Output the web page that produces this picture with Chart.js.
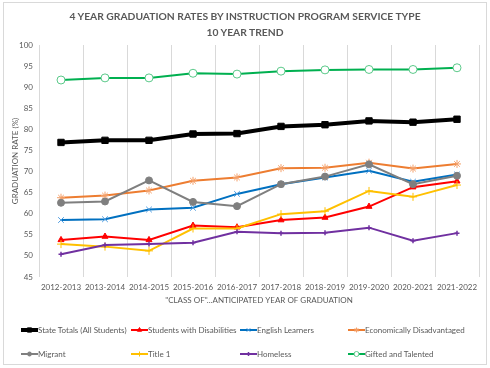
<!DOCTYPE html>
<html><head><meta charset="utf-8">
<script src="https://cdn.jsdelivr.net/npm/chart.js@4"></script>
<style>
html,body{margin:0;padding:0;background:#fff;}
#wrap{position:relative;width:490px;height:368px;font-family:Lato,"Liberation Sans",sans-serif;overflow:hidden;}
#frame{position:absolute;left:3px;top:2px;width:484px;height:363px;border:1px solid #d9d9d9;box-sizing:border-box;}
#title{position:absolute;left:0;top:8px;width:490px;text-align:center;font-weight:bold;font-size:10.3px;line-height:16px;color:#595959;}
#c{position:absolute;left:0;top:0;}
.lg{position:absolute;font-size:8px;color:#595959;height:12px;line-height:12px;white-space:nowrap;}
.lg canvas{vertical-align:middle;display:inline-block;}
.lg span{vertical-align:middle;}
</style></head>
<body>
<div id="wrap">
<div id="frame"></div>
<canvas id="c" width="490" height="368"></canvas>
<div id="title">4 YEAR GRADUATION RATES BY INSTRUCTION PROGRAM SERVICE TYPE<br>10 YEAR TREND</div>
<div id="legend"></div>
</div>
<script>
const categories = ["2012-2013","2013-2014","2014-2015","2015-2016","2016-2017","2017-2018","2018-2019","2019-2020","2020-2021","2021-2022"];
const seriesNames = ["State Totals (All Students)","Students with Disabilities","English Learners","Economically Disadvantaged","Migrant","Title 1","Homeless","Gifted and Talented"];
const stateTotals = [76.9,77.4,77.4,78.9,79.0,80.7,81.1,82.0,81.7,82.4];
const studentsWithDisabilities = [53.8,54.6,53.8,57.2,56.8,58.5,59.1,61.7,66.3,67.7];
const englishLearners = [58.5,58.7,61.0,61.4,64.7,67.0,68.6,70.2,67.6,69.3];
const economicallyDisadvantaged = [63.8,64.3,65.5,67.8,68.6,70.8,70.9,72.1,70.7,71.8];
const migrant = [62.6,62.9,67.9,62.8,61.8,67.0,68.8,71.7,67.0,69.0];
const title1 = [52.8,52.2,51.2,56.5,56.5,59.9,60.6,65.4,64.0,66.8];
const homeless = [50.4,52.6,52.8,53.1,55.7,55.4,55.5,56.7,53.6,55.4];
const giftedTalented = [91.7,92.2,92.2,93.3,93.1,93.8,94.1,94.2,94.2,94.6];
const yMin = 45, yMax = 100, yStep = 5;
const yAxisTitle = "GRADUATION RATE (%)";
const xAxisTitle = "\"CLASS OF\"...ANTICIPATED YEAR OF GRADUATION";

const FONT = "Lato, 'Liberation Sans', sans-serif";
const GREY = "#595959";

const styles = [
  {color:"#000000", width:4, style:"rect", radius:4.5, fill:"#000000", stroke:"#000000", pbw:1, lr:3},
  {color:"#FF0000", width:2, style:"triangle", radius:3.5, fill:"#FF0000", stroke:"#FF0000", pbw:1, lr:2.5},
  {color:"#0070C0", width:2, style:"crossRot", radius:4, fill:"#0070C0", stroke:"#4C9BE0", pbw:1, lr:2.5},
  {color:"#ED7D31", width:2, style:"star", radius:4, fill:"#ED7D31", stroke:"#F4A06A", pbw:1, lr:2.5},
  {color:"#7F7F7F", width:2, style:"circle", radius:3.5, fill:"#7F7F7F", stroke:"#7F7F7F", pbw:1, lr:2},
  {color:"#FFC000", width:2, style:"cross", radius:4, fill:"#FFC000", stroke:"#FFC000", pbw:1, lr:2.5},
  {color:"#7030A0", width:2, style:"cross", radius:2.5, fill:"#7030A0", stroke:"#7030A0", pbw:1.5, lr:2},
  {color:"#00B050", width:2, style:"circle", radius:4, fill:"#FFFFFF", stroke:"#5CC98A", pbw:1, lr:2.5}
];
const seriesData = [stateTotals, studentsWithDisabilities, englishLearners, economicallyDisadvantaged, migrant, title1, homeless, giftedTalented];

const datasets = seriesNames.map((n,i)=>({
  label:n, data:seriesData[i],
  borderColor:styles[i].color, backgroundColor:styles[i].color,
  borderWidth:styles[i].width,
  pointStyle:styles[i].style, pointRadius:styles[i].radius,
  pointBackgroundColor:styles[i].fill, pointBorderColor:styles[i].stroke,
  pointBorderWidth:styles[i].pbw, tension:0, fill:false,
  order: seriesNames.length - i
}));

new Chart(document.getElementById('c'), {
  type:'line',
  data:{labels:categories, datasets},
  options:{
    responsive:false, animation:false, devicePixelRatio:1,
    layout:{padding:{left:8,right:11,top:45,bottom:61}},
    plugins:{legend:{display:false}, title:{display:false}, tooltip:{enabled:false}},
    scales:{
      x:{
        offset:true,
        grid:{display:true, offset:true, color:"#d9d9d9", lineWidth:1, drawTicks:false},
        border:{display:false},
        ticks:{font:{family:FONT,size:8}, color:GREY, padding:6, maxRotation:0, autoSkip:false},
        title:{display:true, text:xAxisTitle, font:{family:FONT,size:8}, color:GREY, padding:{top:0,bottom:2}},
        afterFit:(s)=>{s.height=30;}
      },
      y:{
        min:yMin, max:yMax,
        grid:{display:false, drawTicks:false},
        border:{display:false},
        ticks:{stepSize:yStep, font:{family:FONT,size:8}, color:GREY, padding:6},
        title:{display:true, text:yAxisTitle, font:{family:FONT,size:8}, color:GREY, padding:{top:3,bottom:0}},
        afterFit:(s)=>{s.width=31;}
      }
    }
  }
});

// legend (HTML, 4 columns x 2 rows)
const colX = [21,131,240,348];
const rowY = [323,347];
const lg = document.getElementById('legend');
seriesNames.forEach((n,i)=>{
  const d = document.createElement('div');
  d.className='lg';
  d.style.left = colX[i%4]+'px';
  d.style.top = rowY[Math.floor(i/4)]+'px';
  const cv = document.createElement('canvas');
  cv.width=17; cv.height=12;
  const ctx = cv.getContext('2d');
  const s = styles[i];
  ctx.strokeStyle = s.color; ctx.lineWidth = s.width;
  ctx.beginPath(); ctx.moveTo(0,6); ctx.lineTo(17,6); ctx.stroke();
  ctx.fillStyle = s.fill; ctx.strokeStyle = s.stroke; ctx.lineWidth = s.pbw;
  if (Chart.helpers && Chart.helpers.drawPoint) {
    Chart.helpers.drawPoint(ctx, {pointStyle:s.style, radius:s.lr, borderWidth:s.pbw, rotation:0}, 8.5, 6);
  }
  const sp = document.createElement('span');
  sp.textContent = n;
  d.appendChild(cv); d.appendChild(sp);
  lg.appendChild(d);
});
</script>
</body></html>
